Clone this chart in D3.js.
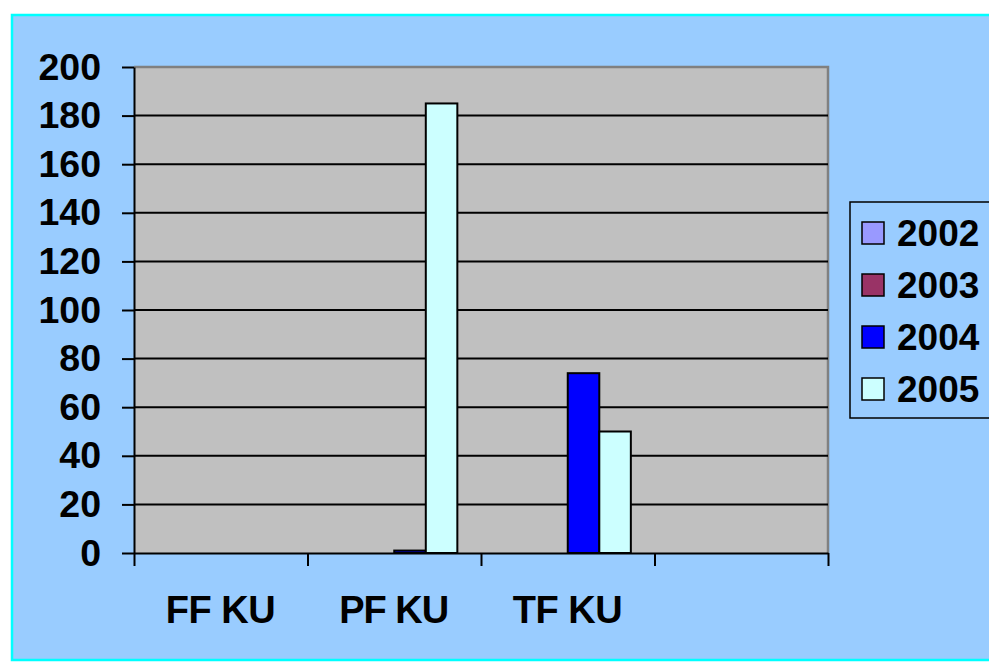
<!DOCTYPE html>
<html lang="en">
<head>
<meta charset="utf-8">
<title>KU chart</title>
<style>
  body { margin: 0; background: white; }
  svg { display: block; }
  text { font-family: "Liberation Sans", Arial, sans-serif; font-weight: bold; }
</style>
<script src="https://d3js.org/d3.v7.min.js"></script>
</head>
<body>
<script>
  // chart data
  let categories = ["FF KU", "PF KU", "TF KU", ""]
  let years = ["2002", "2003", "2004", "2005"]
  let values2002 = [0, 0, 0, 0]
  let values2003 = [0, 0, 0, 0]
  let values2004 = [0, 1, 74, 0]
  let values2005 = [0, 185, 50, 0]
  let yTicks = [0, 20, 40, 60, 80, 100, 120, 140, 160, 180, 200]
  let colors = ["#9999FF", "#993366", "#0000FF", "#CCFFFF"]

  let series = [values2002, values2003, values2004, values2005]

  let width = 989
  let height = 662
  let plot = { left: 134, right: 828, top: 67, bottom: 553 }

  let svg = d3.select("body").append("svg")
      .attr("width", width)
      .attr("height", height)

  // outer chart area
  svg.append("rect")
      .attr("x", 12).attr("y", 15)
      .attr("width", 1000).attr("height", 645)
      .attr("fill", "#99CCFF")
      .attr("stroke", "#00FFFF")
      .attr("stroke-width", 2.5)

  let x = d3.scaleBand()
      .domain(categories)
      .range([plot.left, plot.right])

  let xInner = d3.scaleBand()
      .domain(years)
      .range([0, x.bandwidth()])
      .paddingInner(0)
      .paddingOuter(0.75)

  let y = d3.scaleLinear()
      .domain([0, 200])
      .range([plot.bottom, plot.top])

  // plot area
  svg.append("rect")
      .attr("x", plot.left).attr("y", plot.top)
      .attr("width", plot.right - plot.left)
      .attr("height", plot.bottom - plot.top)
      .attr("fill", "#C0C0C0")

  // border top/right in gray
  svg.append("path")
      .attr("d", `M${plot.left},${plot.top}H${plot.right}V${plot.bottom}`)
      .attr("fill", "none")
      .attr("stroke", "#808080")
      .attr("stroke-width", 2.5)

  // gridlines
  svg.append("g")
      .selectAll("line")
      .data(yTicks.filter(d => d > 0 && d < 200))
      .enter()
      .append("line")
      .attr("x1", plot.left).attr("x2", plot.right)
      .attr("y1", d => y(d)).attr("y2", d => y(d))
      .attr("stroke", "black")
      .attr("stroke-width", 2)

  // bars
  let groups = svg.append("g")
      .selectAll("g")
      .data(series)
      .enter()
      .append("g")
      .attr("fill", (d, i) => colors[i])

  groups.selectAll("rect")
      .data((d, i) => d.map((v, j) => ({ v: v, cat: categories[j], year: years[i] })))
      .enter()
      .filter(d => d.v > 0)
      .append("rect")
      .attr("x", d => x(d.cat) + xInner(d.year))
      .attr("y", d => y(d.v))
      .attr("width", xInner.bandwidth())
      .attr("height", d => y(0) - y(d.v))
      .attr("stroke", "black")
      .attr("stroke-width", 2)

  // y axis
  let yAxis = svg.append("g")
      .attr("transform", `translate(${plot.left},0)`)
      .call(d3.axisLeft(y).tickValues(yTicks).tickSize(12).tickPadding(21).tickSizeOuter(0))
  yAxis.selectAll("line, path").attr("stroke", "black").attr("stroke-width", 2)
  yAxis.selectAll("text")
      .attr("font-size", 37.5)
      .attr("font-family", "Liberation Sans, Arial, sans-serif")
      .attr("font-weight", "bold")
      .attr("fill", "black")

  // x axis: ticks at category boundaries
  let xLin = d3.scaleLinear().domain([0, categories.length]).range([plot.left, plot.right])
  let xAxis = svg.append("g")
      .attr("transform", `translate(0,${plot.bottom})`)
      .call(d3.axisBottom(xLin).ticks(categories.length).tickSize(13).tickSizeOuter(0).tickFormat(""))
  xAxis.selectAll("line, path").attr("stroke", "black").attr("stroke-width", 2)

  svg.append("g")
      .selectAll("text")
      .data(categories)
      .enter()
      .append("text")
      .attr("x", d => x(d) + x.bandwidth() / 2)
      .attr("y", 623)
      .attr("text-anchor", "middle")
      .attr("font-size", 38)
      .attr("textLength", d => d ? 110 : null)
      .text(d => d)

  // legend
  let legend = svg.append("g")
  legend.append("rect")
      .attr("x", 850).attr("y", 202)
      .attr("width", 200).attr("height", 216)
      .attr("fill", "#99CCFF")
      .attr("stroke", "black")
      .attr("stroke-width", 1.5)

  let items = legend.selectAll("g.item")
      .data(years)
      .enter()
      .append("g")
      .attr("class", "item")
      .attr("transform", (d, i) => `translate(0,${i * 52})`)

  items.append("rect")
      .attr("x", 862).attr("y", 222)
      .attr("width", 22).attr("height", 22)
      .attr("fill", (d, i) => colors[i])
      .attr("stroke", "black")
      .attr("stroke-width", 1.5)

  items.append("text")
      .attr("x", 897).attr("y", 246)
      .attr("font-size", 37)
      .text(d => d)
</script>
</body>
</html>
